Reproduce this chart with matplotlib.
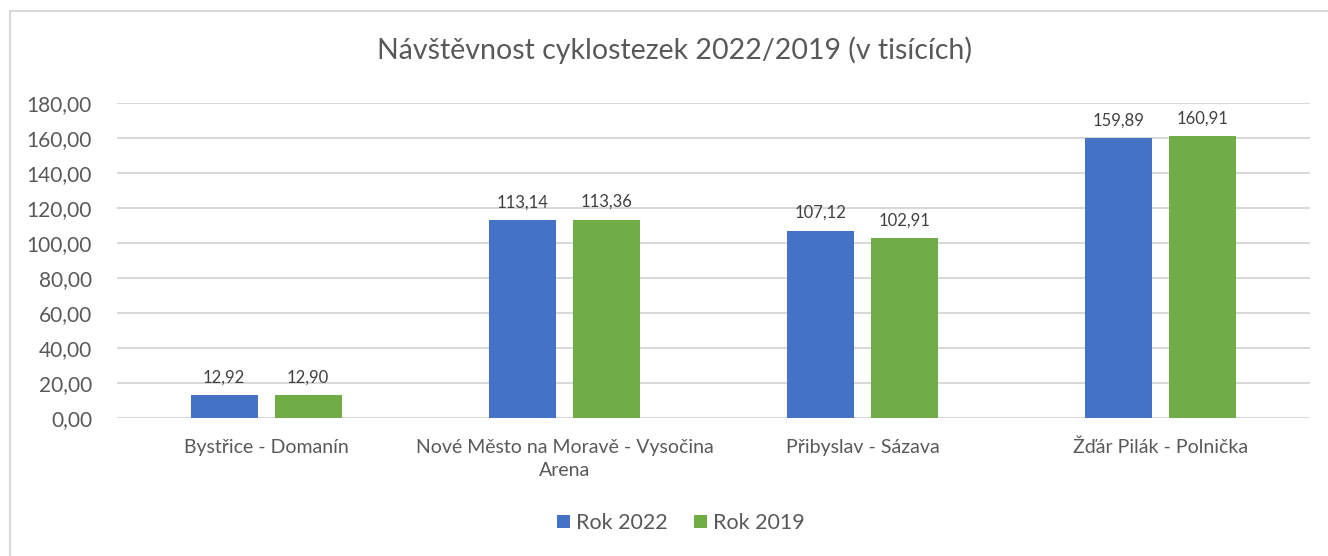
import numpy as np
import matplotlib.pyplot as plt
from matplotlib.patches import Rectangle

plt.rcParams['font.family'] = ['Lato', 'DejaVu Sans']

categories = ["Bystřice - Domanín", "Nové Město na Moravě - Vysočina\nArena",
              "Přibyslav - Sázava", "Žďár Pilák - Polnička"]
rok_2022 = [12.92, 113.14, 107.12, 159.89]
rok_2019 = [12.90, 113.36, 102.91, 160.91]
yticks = np.arange(0, 181, 20)

BLUE = "#4472C4"
GREEN = "#70AD47"
TXT = "#595959"
GRID = "#D9D9D9"

def cz(v):
    return f"{v:.2f}".replace(".", ",")

fig = plt.figure(figsize=(13.28, 5.56), dpi=100)
W, H = 1328, 556
fig.patches.append(Rectangle((10 / W, -0.1), 1.2, 1 - 11 / H + 0.1,
                             transform=fig.transFigure, fill=False,
                             edgecolor="#D9D9D9", lw=1.5))

ax = fig.add_axes([117 / W, 1 - 418 / H, (1310 - 117) / W, (418 - 103) / H])
x = np.arange(len(categories))
bw = 0.225
off = bw / 2 + 0.0285
b1 = ax.bar(x - off, rok_2022, bw, color=BLUE, label="Rok 2022", zorder=3)
b2 = ax.bar(x + off, rok_2019, bw, color=GREEN, label="Rok 2019", zorder=3)
for bars, vals in ((b1, rok_2022), (b2, rok_2019)):
    for r, v in zip(bars, vals):
        ax.annotate(cz(v), (r.get_x() + r.get_width() / 2, v),
                    xytext=(0, 7), textcoords="offset points",
                    ha="center", va="bottom", fontsize=12, color="#404040")

ax.set_xlim(-0.5, len(categories) - 0.5)
ax.set_ylim(0, 180)
ax.set_yticks(yticks)
ax.set_yticklabels([cz(v) for v in yticks], fontsize=15, color=TXT)
ax.set_xticks(x)
ax.set_xticklabels(categories, fontsize=14, color=TXT, linespacing=1.45)
ax.tick_params(length=0)
ax.tick_params(axis="y", pad=18)
ax.tick_params(axis="x", pad=15)
ax.grid(axis="y", color=GRID, lw=1.5, zorder=0)
for s in ax.spines.values():
    s.set_visible(False)

fig.text(674.5 / W, 1 - 50 / H, "Návštěvnost cyklostezek 2022/2019 (v tisících)",
         ha="center", va="center", fontsize=20.5, color=TXT)
fig.legend(handles=[b1, b2], loc="center", bbox_to_anchor=(681 / W, 1 - 523 / H),
           ncol=2, frameon=False, fontsize=15.5, labelcolor=TXT,
           handlelength=0.6, handleheight=0.6, handletextpad=0.3, columnspacing=1.2)

fig.savefig("out.png", dpi=100)
